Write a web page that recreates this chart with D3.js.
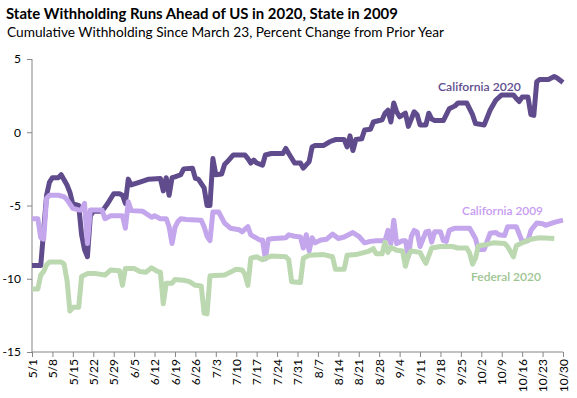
<!DOCTYPE html>
<html><head><meta charset="utf-8">
<script src="https://cdn.jsdelivr.net/npm/d3@7"></script>
<style>body{margin:0;background:#fff}svg{display:block}</style>
</head><body>
<svg id="c" width="577" height="398"></svg>
<script>
const title = "State Withholding Runs Ahead of US in 2020, State in 2009";
const subtitle = "Cumulative Withholding Since March 23, Percent Change from Prior Year";
const tickLabels = ["5/1","5/8","5/15","5/22","5/29","6/5","6/12","6/19","6/26","7/3","7/10","7/17","7/24","7/31","8/7","8/14","8/21","8/28","9/4","9/11","9/18","9/25","10/2","10/9","10/16","10/23","10/30"];
const yTicks = [5,0,-5,-10,-15];
const seriesNames = ["California 2020","California 2009","Federal 2020"];
// [days since 5/1, percent change]
const ca2020 = [[0,-9.1],[3,-9.1],[5,-4.3],[6,-3.4],[7,-3.1],[9,-3.1],[10,-2.9],[12,-3.6],[13,-4.1],[14,-4.9],[16,-5.0],[17,-7.0],[18,-8.0],[19,-8.5],[20,-5.7],[21,-5.4],[24,-5.4],[26,-4.85],[28,-4.2],[30,-4.2],[31,-4.3],[32,-4.85],[33,-3.2],[34,-3.6],[37,-3.4],[40,-3.2],[44,-3.15],[45,-4.0],[46,-3.1],[47,-4.3],[48,-3.1],[49,-3.05],[51,-2.9],[52,-2.5],[55,-2.45],[56,-3.15],[57,-3.2],[59,-3.8],[60,-5.0],[61,-5.0],[62,-1.8],[63,-2.9],[65,-2.85],[66,-2.2],[67,-2.0],[69,-1.55],[73,-1.55],[74,-1.8],[75,-2.1],[76,-1.9],[77,-2.1],[79,-2.25],[80,-1.55],[82,-1.45],[86,-1.45],[87,-1.1],[88,-1.45],[90,-2.1],[92,-2.1],[93,-2.45],[95,-2.0],[96,-1.0],[97,-0.9],[100,-0.9],[102,-0.65],[104,-0.5],[107,-0.5],[108,-1.0],[109,-0.25],[110,-1.25],[111,-0.5],[113,-0.45],[114,0.15],[116,0.2],[117,0.7],[120,0.85],[121,1.3],[122,1.5],[123,0.7],[124,2.0],[125,1.4],[126,1.05],[128,1.3],[129,0.4],[131,1.4],[132,1.2],[133,0.5],[135,0.5],[136,1.3],[137,0.9],[138,0.8],[141,0.8],[143,1.6],[145,1.8],[146,2.0],[149,2.0],[151,1.2],[152,0.6],[155,0.5],[157,1.5],[159,2.2],[161,2.55],[165,2.55],[166,2.3],[167,2.1],[168,2.4],[170,2.4],[171,1.2],[172,1.15],[173,3.45],[174,3.6],[177,3.6],[179,3.8],[180,3.7],[182,3.4]];
const ca2009 = [[0,-5.9],[2,-5.9],[3,-7.2],[4,-7.3],[5,-4.5],[6,-4.3],[9,-4.3],[11,-4.4],[12,-4.6],[14,-5.2],[16,-5.3],[17,-5.3],[18,-4.85],[19,-7.6],[20,-5.3],[24,-5.3],[25,-5.9],[27,-5.7],[31,-5.7],[32,-6.55],[33,-4.75],[34,-5.35],[38,-5.4],[41,-5.8],[42,-5.7],[44,-5.9],[46,-5.9],[47,-6.45],[48,-7.6],[49,-6.5],[50,-6.1],[51,-5.9],[53,-5.95],[58,-6.0],[59,-6.45],[60,-7.1],[61,-7.4],[62,-5.45],[64,-5.45],[66,-6.2],[68,-6.55],[71,-6.65],[72,-6.8],[74,-6.45],[75,-7.0],[78,-7.35],[79,-7.35],[80,-8.65],[81,-7.3],[83,-7.25],[87,-7.2],[88,-7.0],[90,-7.1],[92,-7.15],[93,-7.9],[94,-7.0],[95,-8.1],[96,-7.2],[97,-7.55],[99,-7.35],[101,-7.3],[103,-6.95],[105,-7.25],[107,-7.15],[110,-6.85],[112,-7.1],[114,-7.55],[116,-7.45],[118,-7.4],[121,-7.4],[122,-6.7],[123,-7.6],[124,-6.0],[125,-7.6],[127,-7.4],[128,-7.4],[129,-8.5],[130,-7.1],[131,-6.7],[132,-6.8],[133,-7.8],[135,-6.8],[136,-6.75],[137,-7.5],[138,-6.8],[140,-6.8],[141,-7.4],[142,-7.45],[143,-6.7],[145,-6.55],[150,-6.55],[152,-7.25],[153,-8.0],[155,-8.0],[157,-6.9],[159,-6.85],[160,-7.0],[162,-7.05],[163,-6.45],[166,-6.45],[168,-7.45],[170,-7.4],[171,-6.7],[173,-6.2],[175,-6.25],[176,-6.35],[179,-6.15],[182,-6.0]];
const fed2020 = [[0,-10.7],[2,-10.7],[3,-9.75],[4,-9.5],[5,-9.05],[6,-8.85],[10,-8.85],[11,-9.0],[12,-10.1],[13,-12.2],[14,-11.95],[16,-11.95],[17,-9.85],[19,-9.65],[22,-9.65],[25,-9.75],[27,-9.4],[30,-9.45],[31,-10.45],[32,-9.3],[35,-9.3],[37,-9.5],[39,-9.55],[41,-9.25],[43,-9.5],[44,-9.55],[45,-11.7],[46,-10.3],[48,-10.3],[49,-10.05],[52,-10.1],[54,-10.2],[56,-10.45],[58,-10.5],[59,-12.35],[60,-12.4],[61,-9.8],[66,-9.75],[67,-9.65],[70,-9.35],[72,-9.4],[73,-9.7],[74,-10.45],[75,-8.6],[77,-8.5],[79,-8.7],[80,-8.6],[82,-8.45],[87,-8.5],[88,-8.7],[89,-10.2],[92,-10.25],[93,-8.6],[95,-8.4],[100,-8.35],[103,-8.5],[104,-9.35],[107,-9.35],[108,-8.4],[111,-8.35],[115,-8.15],[117,-7.95],[118,-8.3],[120,-8.3],[121,-7.5],[122,-8.2],[123,-7.85],[125,-8.05],[127,-8.1],[128,-9.15],[129,-8.4],[130,-8.1],[133,-8.2],[134,-8.6],[135,-8.95],[137,-7.9],[140,-7.8],[144,-7.8],[146,-7.9],[149,-7.9],[150,-8.25],[151,-9.0],[152,-8.6],[153,-7.75],[155,-7.7],[158,-7.55],[162,-7.6],[163,-7.8],[165,-8.5],[166,-7.75],[168,-7.55],[171,-7.3],[174,-7.2],[179,-7.25]];

const colors = ["#604c8d","#c4a6ec","#bbd8b1"];
const labelColors = ["#604c8d","#c79cf2","#9cc591"];
const font = "Lato, 'Open Sans', sans-serif";

const svg = d3.select("#c");
const x = d3.scaleLinear().domain([0, 182]).range([32, 563]);
const y = d3.scaleLinear().domain([-15, 5]).range([352, 59]);

function fit(sel, w){ const l = sel.node().getComputedTextLength(); const fs = parseFloat(sel.attr("font-size")); sel.attr("font-size", (fs*w/l).toFixed(2)); }

const t = svg.append("text").attr("x",6).attr("y",19).attr("font-family",font).attr("font-weight","bold").attr("font-size",16).attr("fill","#000").text(title);
fit(t, 392);
const st = svg.append("text").attr("x",7).attr("y",37).attr("font-family",font).attr("font-size",14).attr("fill","#000").text(subtitle);
fit(st, 437);

// Y axis
const yAxis = d3.axisLeft(y).tickValues(yTicks).tickSize(5).tickPadding(6).tickFormat(d3.format("d"));
const gy = svg.append("g").attr("transform","translate(32,0)").call(yAxis);
gy.select(".domain").attr("stroke","#868686").attr("d","M0,59V352");
gy.selectAll(".tick line").attr("stroke","#868686");
gy.selectAll(".tick text").attr("font-family",font).attr("font-size",12).attr("fill","#000").text(d => d < 0 ? "-" + Math.abs(d) : d);

// X axis
const xAxis = d3.axisBottom(x).tickValues(d3.range(0,183,7)).tickSize(5).tickFormat((d,i)=>tickLabels[i]);
const gx = svg.append("g").attr("transform","translate(0,352)").call(xAxis);
gx.select(".domain").attr("stroke","#868686").attr("d","M32,0H563");
gx.selectAll(".tick line").attr("stroke","#868686");
gx.selectAll(".tick text").attr("font-family",font).attr("font-size",12).attr("fill","#000")
  .attr("transform","rotate(-90)").attr("text-anchor","end").attr("dy","0.35em").attr("x",-7).attr("y",0);

const line = d3.line().x(d=>x(d[0])).y(d=>y(d[1])).curve(d3.curveLinear);
[ca2020, ca2009, fed2020].forEach((s,i)=>{
  svg.append("path").datum(s).attr("d",line).attr("fill","none").attr("stroke",colors[i])
    .attr("stroke-width",5).attr("stroke-linejoin","round").attr("stroke-linecap","butt");
});

const labs = [[438,87,83],[462,211,81],[471,277,70]];
labs.forEach((p,i)=>{
  const l = svg.append("text").attr("x",p[0]).attr("y",p[1]).attr("dy","0.35em").attr("font-family",font).attr("font-weight",600).attr("font-size",13).attr("fill",labelColors[i]).text(seriesNames[i]);
  fit(l, p[2]);
});
</script>
</body></html>
